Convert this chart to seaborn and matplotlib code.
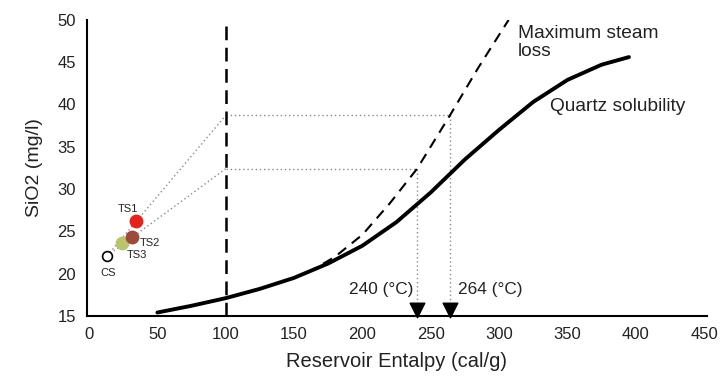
import matplotlib
matplotlib.use("Agg")
import matplotlib.pyplot as plt
import seaborn as sns
import numpy as np
import pandas as pd

# --- data ---
quartz_x = [50, 75, 100, 125, 150, 175, 200, 225, 250, 275, 300, 325, 350, 375, 395]
quartz_y = [15.4, 16.2, 17.1, 18.2, 19.5, 21.2, 23.3, 26.1, 29.6, 33.5, 37.0, 40.3, 42.9, 44.7, 45.6]

steam_x = [160, 180, 200, 220, 240, 264, 285, 307]
steam_y = [20.1, 22.0, 24.6, 28.3, 32.4, 38.7, 44.4, 50.0]

sample_names = ["CS", "TS3", "TS2", "TS1"]
sample_x = [13.2, 24.0, 31.4, 34.4]
sample_y = [22.1, 23.6, 24.3, 26.2]

temps = [240, 264]
temp_sio2 = [32.4, 38.7]
temp_labels = ["240 (°C)", "264 (°C)"]

x_ticks = [0, 50, 100, 150, 200, 250, 300, 350, 400, 450]
y_ticks = [15, 20, 25, 30, 35, 40, 45, 50]

sns.set_style("white")
plt.rcParams['font.family'] = ['Liberation Sans', 'DejaVu Sans']

fig = plt.figure(figsize=(7.22, 3.82), dpi=100)
ax = fig.add_axes([0.1205, 0.173, 0.8585, 0.775])

# dotted construction lines
dot_kw = dict(color="#888888", linewidth=1.0, linestyle=(0, (1, 2)))
for t, s in zip(temps, temp_sio2):
    ax.plot([sample_x[0], 100], [sample_y[0], s], **dot_kw)
    ax.plot([100, t], [s, s], **dot_kw)
    ax.plot([t, t], [s, 15.8], **dot_kw)

# vertical dashed line at 100
ax.axvline(100, color="black", linewidth=1.8, linestyle=(0, (5.5, 3)))

qdf = pd.DataFrame({"x": quartz_x, "y": quartz_y})
sdf = pd.DataFrame({"x": steam_x, "y": steam_y})
sns.lineplot(data=sdf, x="x", y="y", ax=ax, color="black", linewidth=1.5,
             linestyle=(0, (5, 3.5)), sort=False)
sns.lineplot(data=qdf, x="x", y="y", ax=ax, color="black", linewidth=2.8, sort=False)

# samples
colors = ["white", "#b9c46c", "#9c4a3c", "#e3231c"]
edges = ["black", "#b9c46c", "#9c4a3c", "#e3231c"]
sizes = [50, 80, 80, 80]
lws = [1.2, 1.0, 1.0, 1.0]
for n, x, y, c, e, s, lw in zip(sample_names, sample_x, sample_y, colors, edges, sizes, lws):
    ax.scatter([x], [y], s=s, color=c, edgecolor=e, linewidth=lw, zorder=5)

lab_pos = {"CS": (14.0, 20.1), "TS3": (35.0, 22.2), "TS2": (44.6, 23.6), "TS1": (28.5, 27.6)}
for n in sample_names:
    lx, ly = lab_pos[n]
    ax.text(lx, ly, n, fontsize=8, ha="center", va="center", color="#222222")

# arrows
ax.scatter(temps, [15.75, 15.75], marker="v", s=110, color="black", zorder=6, clip_on=False)
ax.text(237, 18.1, temp_labels[0], fontsize=12.4, ha="right", va="center", color="#222222")
ax.text(270, 18.1, temp_labels[1], fontsize=12.4, ha="left", va="center", color="#222222")

ax.text(313.6, 49.4, "Maximum steam\nloss", fontsize=13.8, ha="left", va="top",
        color="#222222", linespacing=1.05)
ax.text(337, 39.75, "Quartz solubility", fontsize=13.8, ha="left", va="center", color="#222222")

ax.set_xlim(-1.5, 452)
ax.set_ylim(15, 50)
ax.set_xticks(x_ticks)
ax.set_yticks(y_ticks)
ax.tick_params(axis="both", length=0, labelsize=12, pad=8, colors="#222222")
ax.set_xlabel("Reservoir Entalpy (cal/g)", fontsize=14.5, labelpad=7, color="#222222")
ax.set_ylabel("SiO2 (mg/l)", fontsize=14, labelpad=10, color="#222222")
for sp in ["top", "right"]:
    ax.spines[sp].set_visible(False)
for sp in ["left", "bottom"]:
    ax.spines[sp].set_color("black")
    ax.spines[sp].set_linewidth(1.5)
ax.grid(False)

fig.savefig("out.png", dpi=100)
